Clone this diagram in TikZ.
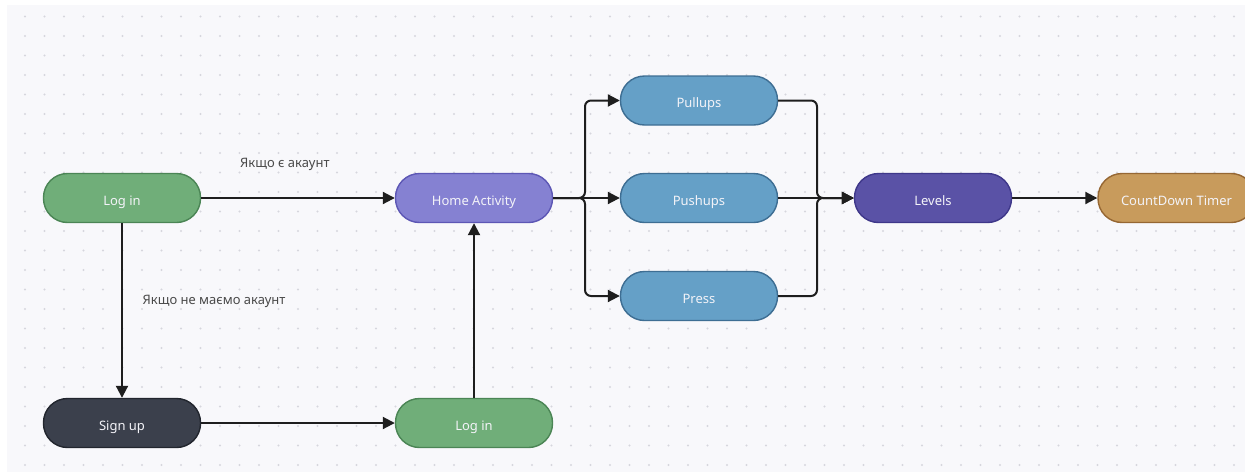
\documentclass[tikz,border=0pt]{standalone}
\usepackage{fontspec}
\setmainfont{Noto Sans}
\usetikzlibrary{arrows.meta}
\definecolor{bgc}{HTML}{F8F8FB}
\definecolor{dotc}{HTML}{D6D6DD}
\definecolor{greenF}{HTML}{70AE79}
\definecolor{greenD}{HTML}{4B8555}
\definecolor{homeF}{HTML}{8581D2}
\definecolor{homeD}{HTML}{5D57B5}
\definecolor{blueF}{HTML}{65A0C7}
\definecolor{blueD}{HTML}{3E6E93}
\definecolor{levF}{HTML}{5A52A6}
\definecolor{levD}{HTML}{3F388A}
\definecolor{cdF}{HTML}{C89B5C}
\definecolor{cdD}{HTML}{966733}
\definecolor{suF}{HTML}{3B404C}
\definecolor{suD}{HTML}{22262E}
\definecolor{txtc}{HTML}{F3F3F8}
\definecolor{labc}{HTML}{4A4A4A}
\definecolor{edgec}{HTML}{1E1E1E}
\tikzset{
  pill/.style={rectangle, rounded corners=24pt, minimum width=157pt, minimum height=49pt,
    line width=1.4pt, text=txtc, font=\fontsize{13}{15}\selectfont, inner sep=0pt,
    text height=14pt, text depth=0pt},
  greenpill/.style={pill, fill=greenF, draw=greenD},
  homepill/.style={pill, fill=homeF, draw=homeD},
  bluepill/.style={pill, fill=blueF, draw=blueD},
  levpill/.style={pill, fill=levF, draw=levD},
  cdpill/.style={pill, fill=cdF, draw=cdD},
  supill/.style={pill, fill=suF, draw=suD},
  edge/.style={draw=edgec, line width=2pt, -{Triangle[length=12pt,width=12pt]}, rounded corners=6pt},
  lab/.style={text=labc, font=\fontsize{13}{15}\selectfont, inner sep=0pt, anchor=west}
}
\begin{document}
\begin{tikzpicture}[x=1pt,y=-1pt]
\useasboundingbox (0,0) rectangle (1245,472);
\clip (0,0) rectangle (1245,472);
\fill[white] (0,0) rectangle (1245,472);
\fill[bgc] (7,5) rectangle (1245,472);
\foreach \i in {0,...,62} {
  \foreach \j in {0,...,23} {
    \fill[dotc] (25+19.5*\i, 16.5+19.5*\j) circle (1.1pt);
  }
}
\node[greenpill] (login1) at (122,198) {Log in};
\node[homepill] (home) at (474,198) {Home Activity};
\node[bluepill] (pull) at (699,100.5) {Pullups};
\node[bluepill] (push) at (699,198) {Pushups};
\node[bluepill] (press) at (699,296) {Press};
\node[levpill] (lev) at (933,198) {Levels};
\node[cdpill] (cd) at (1176.5,198) {CountDown Timer};
\node[supill] (signup) at (122,423) {Sign up};
\node[greenpill] (login2) at (474,423) {Log in};

\coordinate (split) at (585,198);
\coordinate (merge) at (817,198);

\draw[edge] (login1) -- (home);
\draw[edge] (login1) -- (signup);
\draw[edge] (signup) -- (login2);
\draw[edge] (login2) -- (home);
\draw[edge] (home.east) -- (split) |- (pull.west);
\draw[edge] (home.east) -- (push.west);
\draw[edge] (home.east) -- (split) |- (press.west);
\draw[edge] (pull.east) -| (merge) -- (lev.west);
\draw[edge] (push.east) -- (lev.west);
\draw[edge] (press.east) -| (merge) -- (lev.west);
\draw[edge] (lev) -- (cd);

\node[lab] (l1) at (240,164) {Якщо є акаунт};
\node[lab] (l2) at (142.5,301) {Якщо не маємо акаунт};
\end{tikzpicture}
\end{document}
